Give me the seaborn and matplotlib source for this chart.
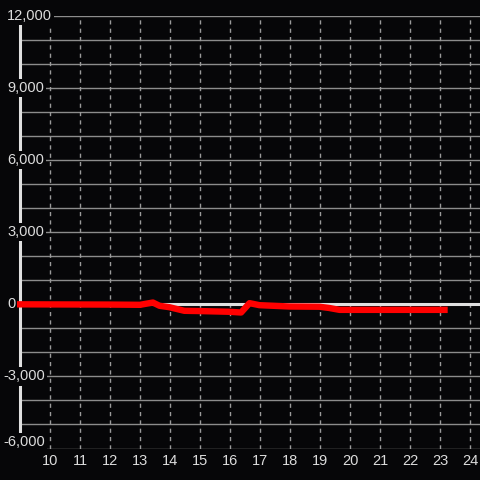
import numpy as np
import pandas as pd
import seaborn as sns
import matplotlib
matplotlib.use("Agg")
import matplotlib.pyplot as plt
import matplotlib.transforms as mtransforms

# data
hours = [9.0, 12.0, 13.0, 13.43, 13.65, 13.98, 14.48, 14.98, 15.98, 16.37,
         16.65, 16.98, 17.98, 18.98, 19.3, 19.65, 20.5, 21.5, 22.5, 23.15]
values = [0, -10, -20, 75, -60, -120, -270, -280, -310, -340,
          50, -35, -90, -100, -150, -230, -230, -230, -230, -230]
x_ticks = list(range(10, 25))
y_ticks = [12000, 9000, 6000, 3000, 0, -3000, -6000]
y_minor = list(range(-6000, 12001, 1000))

df = pd.DataFrame({"hour": hours, "value": values})

bg = "#060608"
sns.set_style("dark", {"axes.facecolor": bg, "figure.facecolor": bg})
plt.rcParams['font.family'] = ['Liberation Sans', 'DejaVu Sans']

fig = plt.figure(figsize=(4.8, 4.8), dpi=100)
ax = fig.add_axes([20 / 480, 31.5 / 480, 460 / 480, 432.5 / 480])
ax.set_facecolor(bg)

ax.set_xlim(9, 9 + 460 / 30)
ax.set_ylim(-6000, 12000)

# horizontal grid, every 1000
for v in y_minor:
    if v == 0:
        continue
    ax.axhline(v, color="#8c8c8c", lw=1, zorder=1)
# vertical dashed grid
for h in x_ticks:
    ax.axvline(h, color="#9a9a9a", lw=1, ls=(0, (3, 3)), zorder=1)
# zero line
ax.axhline(0, color="#e0e0e0", lw=2.2, zorder=2)

sns.lineplot(data=df, x="hour", y="value", ax=ax, color="#ff0000", lw=4.6,
             solid_capstyle="projecting", clip_on=False, zorder=3)

for s in ["top", "right", "bottom"]:
    ax.spines[s].set_visible(False)
ax.spines["left"].set_color("#e0e0e0")
ax.spines["left"].set_linewidth(2.2)
ax.spines["left"].set_bounds(-6000, 11667)
ax.spines["left"].set_zorder(2)

ax.set_xticks(x_ticks)
ax.set_xticklabels([str(t) for t in x_ticks])
ax.tick_params(axis="x", length=0, pad=4, labelsize=10.5, colors="#dcdcdc")
ax.set_yticks([])
ax.set_xlabel("")
ax.set_ylabel("")

# y labels sit over the axis line with a black box behind
trans = mtransforms.blended_transform_factory(fig.transFigure, ax.transData)
for v in y_ticks:
    lab = f"{v:,}"
    xpos = (7 if v >= 0 else 3) / 480
    if v == y_ticks[-1]:
        ypos, va = v + 85, "baseline"   # lowest label is kept inside the plot
    else:
        ypos, va = v, "center"
    ax.text(xpos, ypos, lab, transform=trans, ha="left", va=va,
            fontsize=10.5, color="#dcdcdc", zorder=4, clip_on=False,
            bbox=dict(boxstyle="square,pad=0.15", fc=bg, ec="none"))

fig.savefig("out.png", dpi=100, facecolor=bg)
